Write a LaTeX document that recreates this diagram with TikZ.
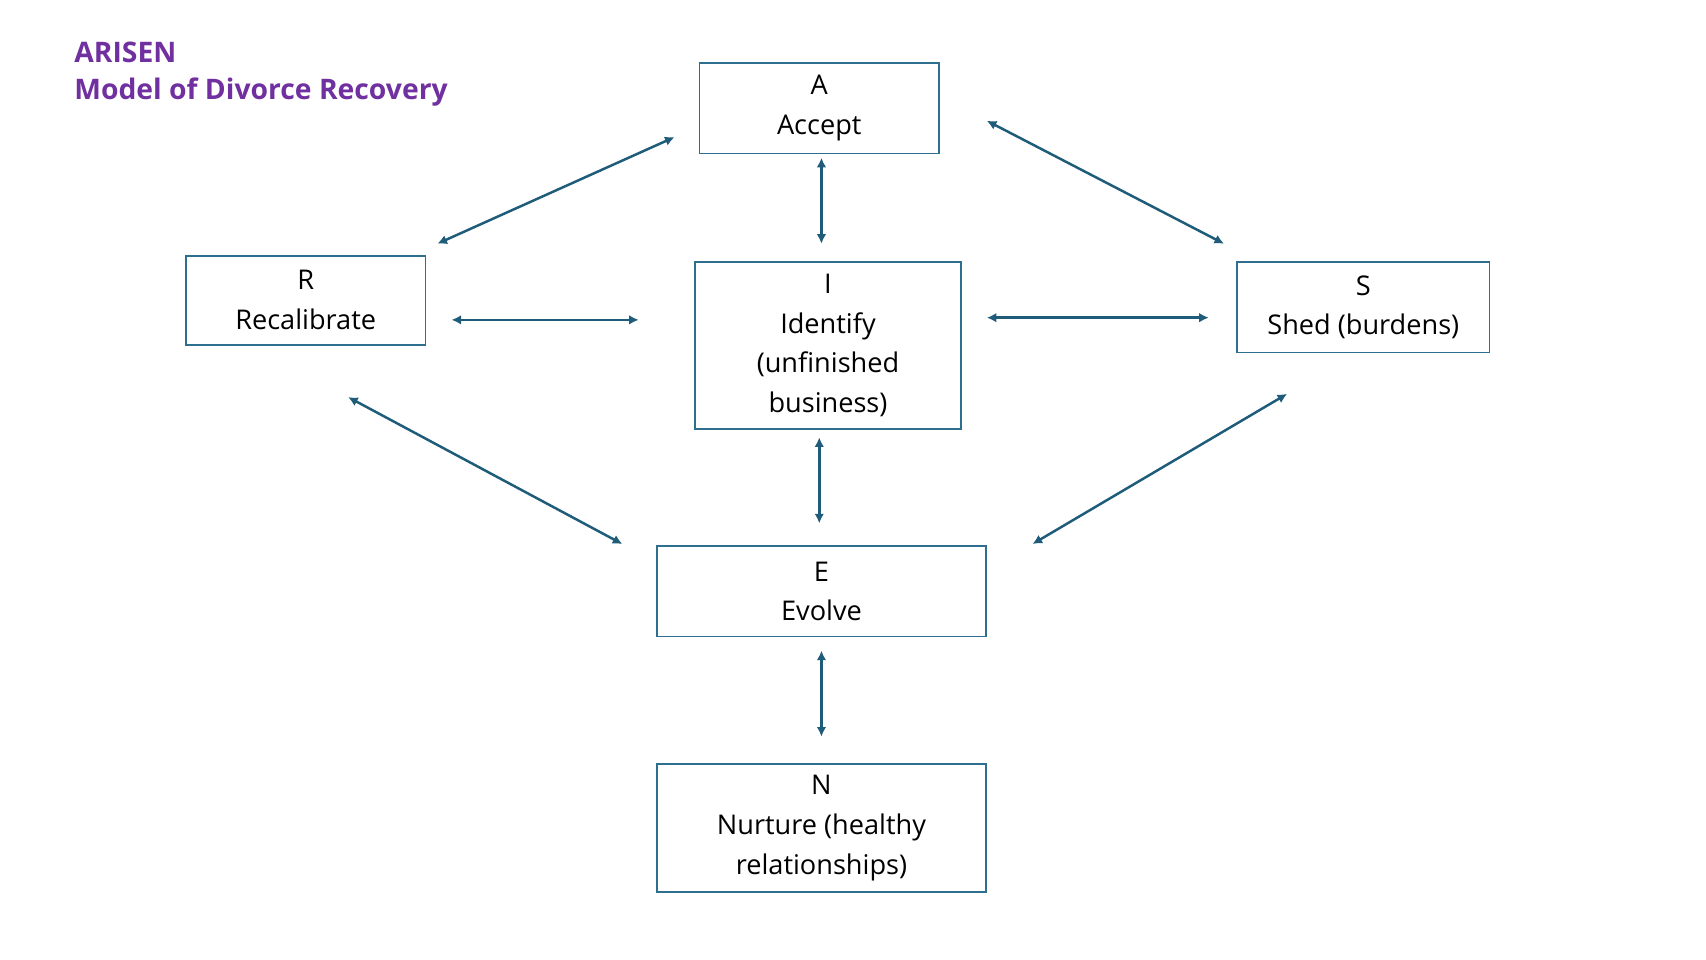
\documentclass[tikz,border=0pt]{standalone}
\usepackage{fontspec}
\setmainfont{Open Sans}
\usetikzlibrary{arrows.meta}
\definecolor{boxc}{HTML}{2E6E8E}
\definecolor{arrc}{HTML}{1F5C7A}
\definecolor{titc}{HTML}{7030A0}
\begin{document}
\begin{tikzpicture}[x=0.02cm,y=-0.02cm,
  box/.style={draw=boxc,line width=0.9pt,align=center,inner sep=0pt,font=\fontsize{14.2}{20.8}\selectfont},
  link/.style={draw=arrc,line width=1.3pt,{Latex[length=5pt,width=5pt]}-{Latex[length=5pt,width=5pt]}},
  ttl/.style={text=titc,font=\fontsize{14.8}{18}\selectfont\bfseries,anchor=west,inner sep=0pt}]
\useasboundingbox (0,0) rectangle (1568,882);
\node[ttl] (t1) at (68,48) {ARISEN};
\node[ttl] (t2) at (68,85) {Model of Divorce Recovery};
\node[box,minimum width=4.4cm,minimum height=1.66cm] (A) at (753,99.5) {A\\Accept};
\node[box,minimum width=4.4cm,minimum height=1.64cm] (R) at (281,276) {R\\Recalibrate};
\node[box,minimum width=4.88cm,minimum height=3.06cm] (I) at (761,317.5) {I\\Identify\\(unfinished\\business)};
\node[box,minimum width=4.64cm,minimum height=1.66cm] (S) at (1253,282.5) {S\\Shed (burdens)};
\node[box,minimum width=6.04cm,minimum height=1.66cm] (E) at (755,543.5) {E\\Evolve};
\node[box,minimum width=6.04cm,minimum height=2.36cm] (N) at (755,761) {N\\Nurture (healthy\\relationships)};
\coordinate (a1) at (620,126); \coordinate (a2) at (402,224);
\coordinate (b1) at (755,145); \coordinate (b2) at (755,224);
\coordinate (c1) at (907,111); \coordinate (c2) at (1125,224);
\coordinate (d1) at (415,294); \coordinate (d2) at (587,294);
\coordinate (e1) at (907,292); \coordinate (e2) at (1111,292);
\coordinate (f1) at (320,365); \coordinate (f2) at (572,500);
\coordinate (g1) at (753,402); \coordinate (g2) at (753,481);
\coordinate (h1) at (1183,362); \coordinate (h2) at (949,500);
\coordinate (k1) at (755,598); \coordinate (k2) at (755,677);
\foreach \p in {a,b,c,d,e,f,g,h,k} \draw[link] (\p1) -- (\p2);
\end{tikzpicture}
\end{document}
